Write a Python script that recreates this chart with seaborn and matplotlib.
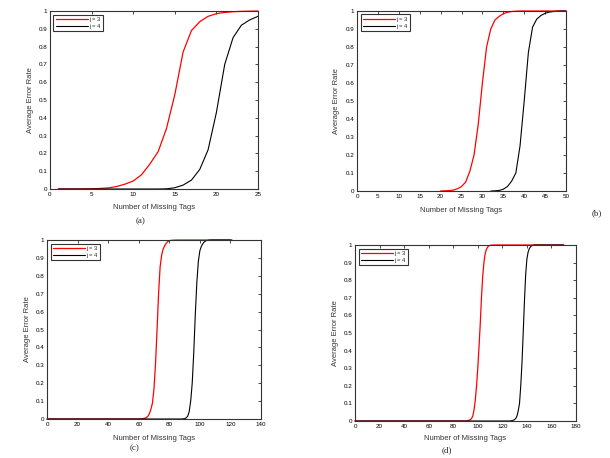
import numpy as np
import pandas as pd
import matplotlib
matplotlib.use('Agg')
import matplotlib.pyplot as plt
import seaborn as sns
from matplotlib.ticker import FuncFormatter

# -----------------------------------------------------------------------------
# Dados (valores aproximados)
# -----------------------------------------------------------------------------
# (a)
xa = [1, 2, 3, 4, 5, 6, 7, 8, 9, 10, 11, 12, 13, 14, 15, 16, 17, 18, 19, 20, 21, 22, 23, 24, 25]
red_a = [0, 0, 0, 0, 0.001, 0.003, 0.006, 0.014, 0.027, 0.045, 0.08, 0.14, 0.21, 0.34, 0.53,
         0.77, 0.89, 0.94, 0.97, 0.985, 0.992, 0.996, 0.998, 0.999, 1.0]
black_a = [0, 0, 0, 0, 0, 0, 0, 0, 0, 0, 0, 0, 0, 0.001, 0.007, 0.022, 0.05, 0.11, 0.22,
           0.43, 0.70, 0.85, 0.92, 0.95, 0.97]

# (b)
xb_red = [20, 21, 22, 23, 24, 25, 26, 27, 28, 29, 30, 31, 32, 33, 34, 35, 36, 37, 38, 39, 50]
red_b = [0, 0.001, 0.002, 0.005, 0.012, 0.025, 0.05, 0.11, 0.2, 0.37, 0.6, 0.8, 0.9, 0.95,
         0.97, 0.985, 0.993, 0.997, 0.999, 1.0, 1.0]
xb_black = [32, 33, 34, 35, 36, 37, 38, 39, 40, 41, 42, 43, 44, 45, 46, 47, 48, 49, 50]
black_b = [0, 0.001, 0.003, 0.01, 0.025, 0.055, 0.1, 0.25, 0.5, 0.77, 0.91, 0.955, 0.975,
           0.987, 0.994, 0.997, 0.999, 1.0, 1.0]

# (c)
xc_red = [0, 60, 62, 64, 65, 66, 67, 68, 69, 70, 71, 72, 73, 74, 75, 76, 77, 78, 79, 80, 82, 85, 120]
red_c = [0, 0, 0.001, 0.004, 0.008, 0.015, 0.03, 0.055, 0.09, 0.17, 0.31, 0.5, 0.7, 0.85,
         0.915, 0.95, 0.968, 0.982, 0.991, 0.996, 0.999, 1.0, 1.0]
xc_black = [0, 88, 90, 91, 92, 93, 94, 95, 96, 97, 98, 99, 100, 101, 102, 103, 104, 106, 108, 121]
black_c = [0, 0, 0.002, 0.006, 0.015, 0.04, 0.1, 0.2, 0.37, 0.58, 0.76, 0.88, 0.94, 0.965,
           0.98, 0.99, 0.996, 0.999, 1.0, 1.0]

# (d)
xd_red = [0, 90, 92, 94, 95, 96, 97, 98, 99, 100, 101, 102, 103, 104, 105, 106, 107, 108,
          109, 110, 112, 170]
red_d = [0, 0, 0.002, 0.008, 0.015, 0.03, 0.065, 0.12, 0.2, 0.3, 0.42, 0.55, 0.7, 0.82, 0.9,
         0.95, 0.975, 0.988, 0.995, 0.998, 1.0, 1.0]
xd_black = [0, 126, 128, 130, 131, 132, 133, 134, 135, 136, 137, 138, 139, 140, 141, 142,
            143, 144, 146, 170]
black_d = [0, 0, 0.002, 0.008, 0.015, 0.03, 0.06, 0.1, 0.2, 0.33, 0.5, 0.68, 0.83, 0.92,
           0.96, 0.98, 0.99, 0.996, 1.0, 1.0]

legend_labels = ['j = 3', 'j = 4']
xlabel = 'Number of Missing Tags'
ylabel = 'Average Error Rate'
yticks = [0, 0.1, 0.2, 0.3, 0.4, 0.5, 0.6, 0.7, 0.8, 0.9, 1.0]

# -----------------------------------------------------------------------------
# Estilo (aparência tipo MATLAB)
# -----------------------------------------------------------------------------
sns.set_style('white')
plt.rcParams['font.family'] = ['Liberation Sans', 'DejaVu Sans']
plt.rcParams['xtick.direction'] = 'in'
plt.rcParams['ytick.direction'] = 'in'

W, H = 610, 458
fig = plt.figure(figsize=(W / 100, H / 100), dpi=100)


def box(left, top, right, bottom):
    # posicao em pixels -> fracao da figura
    return [left / W, 1 - bottom / H, (right - left) / W, (bottom - top) / H]


paineis = [
    dict(pos=box(50, 11, 258, 189), xr=xa, yr=red_a, xk=xa, yk=black_a,
         xlim=25, xstep=5, cap='(a)', cap_xy=(141, 221), xl_y=208, yl_x=30),
    dict(pos=box(357, 11, 566, 191), xr=xb_red, yr=red_b, xk=xb_black, yk=black_b,
         xlim=50, xstep=5, cap='(b)', cap_xy=(597, 213), xl_y=210, yl_x=337),
    dict(pos=box(47, 240, 261, 419), xr=xc_red, yr=red_c, xk=xc_black, yk=black_c,
         xlim=140, xstep=20, cap='(c)', cap_xy=(135, 448), xl_y=438, yl_x=28),
    dict(pos=box(355, 245, 576, 421), xr=xd_red, yr=red_d, xk=xd_black, yk=black_d,
         xlim=180, xstep=20, cap='(d)', cap_xy=(447, 450), xl_y=439, yl_x=335),
]

for p in paineis:
    ax = fig.add_axes(p['pos'])
    df_r = pd.DataFrame({'x': p['xr'], 'y': p['yr']})
    df_k = pd.DataFrame({'x': p['xk'], 'y': p['yk']})
    sns.lineplot(data=df_r, x='x', y='y', ax=ax, color='red', linewidth=0.9,
                 label=legend_labels[0], clip_on=False)
    sns.lineplot(data=df_k, x='x', y='y', ax=ax, color='black', linewidth=0.8,
                 label=legend_labels[1], clip_on=False)

    ax.set_xlim(0, p['xlim'])
    ax.set_ylim(0, 1)
    ax.set_xticks(np.arange(0, p['xlim'] + 1, p['xstep']))
    ax.set_yticks(yticks)
    ax.yaxis.set_major_formatter(FuncFormatter(lambda v, pos: f'{v:g}'))
    ax.tick_params(axis='both', labelsize=4.5, length=2.5, width=0.5, pad=2,
                   top=True, right=True, colors='black')
    for s in ax.spines.values():
        s.set_color('#333333')
        s.set_linewidth(0.8)
    ax.set_xlabel('')
    ax.set_ylabel('')

    # rótulos posicionados em pixels
    left, bottom, width, height = p['pos']
    fig.text(left + width / 2, 1 - p['xl_y'] / H, xlabel, ha='center', va='center',
             fontsize=5.5, color='#333333')
    fig.text(p['yl_x'] / W, bottom + height / 2, ylabel, ha='center', va='center',
             rotation=90, fontsize=5.5, color='#333333')
    fig.text(p['cap_xy'][0] / W, 1 - p['cap_xy'][1] / H, p['cap'], ha='center', va='center',
             fontsize=6.5, family=['Liberation Serif', 'DejaVu Serif'])

    leg = ax.legend(loc='upper left', fontsize=4.2, frameon=True, fancybox=False,
                    handlelength=5.5, handletextpad=0.2, borderpad=0.4,
                    labelspacing=0.3, borderaxespad=0.6)
    leg.get_frame().set_edgecolor('black')
    leg.get_frame().set_linewidth(0.8)

fig.savefig('out.png', dpi=100)
